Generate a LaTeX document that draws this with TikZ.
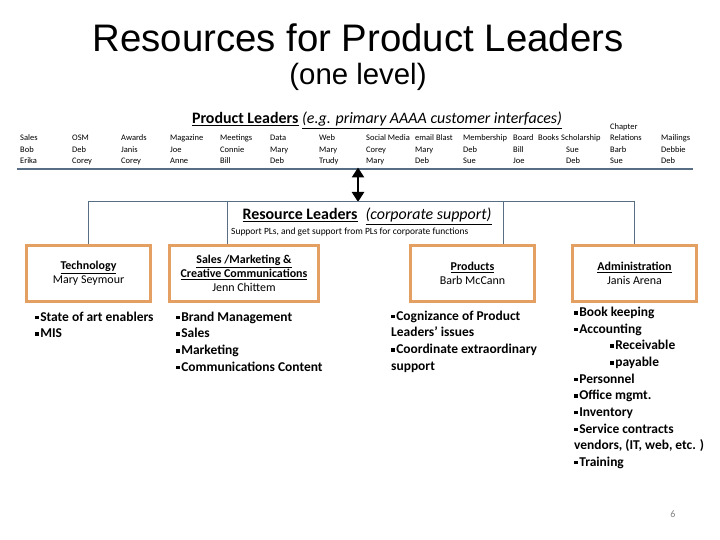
\documentclass[tikz,border=0pt]{standalone}
\usepackage{fontspec}
\setmainfont{Carlito}
\newfontfamily\titlefont{Liberation Sans}
\usetikzlibrary{arrows.meta}
\definecolor{boxorange}{RGB}{228,160,98}
\definecolor{slate}{RGB}{88,110,132}
\newcommand{\sqbul}{\rule[0.3ex]{0.26em}{0.26em}\kern0.12em}

\begin{document}
\begin{tikzpicture}[x=1bp, y=-1bp,
    col/.style={anchor=base west, align=left, inner sep=0pt, font=\fontsize{8.5}{11.5}\selectfont},
    res/.style={draw=boxorange, line width=3bp, minimum height=56bp, align=center, inner sep=2bp, font=\fontsize{12}{14}\selectfont},
    duty/.style={anchor=base west, align=left, inner sep=0pt, font=\bfseries\fontsize{13.5}{16.7}\selectfont},
    link/.style={slate, line width=0.8bp}]
    \useasboundingbox (0,0) rectangle (720,540);
    % titles
    \node[anchor=base, font=\titlefont\fontsize{38.5}{40}\selectfont] (title) at (358,52) {Resources for Product Leaders};
    \node[anchor=base, font=\titlefont\fontsize{29.5}{32}\selectfont] (subtitle) at (358,85) {(one level)};
    \node[anchor=base, font=\fontsize{16}{18}\selectfont] (plhead) at (377,124)
        {\underline{\textbf{Product Leaders}} \underline{\textit{(e.g. primary AAAA customer interfaces)}}};
    % product leader columns (anchored on their last line)
    \foreach \x/\hd/\na/\nb in {20/Sales/Bob/Erika, 72/OSM/Deb/Corey, 121/Awards/Janis/Corey,
        170/Magazine/Joe/Anne, 220/Meetings/Connie/Bill, 270/Data/Mary/Deb, 319/Web/Mary/Trudy,
        366/Social Media/Corey/Mary, 415/email Blast/Mary/Deb, 463/Membership/Deb/Sue,
        513/Board/Bill/Joe, 661/Mailings/Debbie/Deb}
        {\node[col] (c\x) at (\x,163.5) {\hd\\\na\\\nb};}
    \node[col] (books) at (538,140.5) {Books};
    \node[col] (schol) at (561,140.5) {Scholarship};
    \node[col] (scholpl) at (566,163.5) {Sue\\Deb};
    \node[col] (chapter) at (610,163.5) {Chapter\\Relations\\Barb\\Sue};
    \draw[slate, line width=1.2bp] (17,169) -- (693,169);
    % link between the two levels
    \coordinate (pl) at (358,167.5);
    \coordinate (rl) at (358,202);
    \draw[{Triangle[width=12bp,length=10bp]}-{Triangle[width=12bp,length=10bp]}, line width=2.6bp] (pl) -- (rl);
    % resource leaders
    \node[anchor=base, font=\fontsize{16}{18}\selectfont] (rlhead) at (367,220)
        {\underline{\textbf{Resource Leaders}}\enspace\underline{\textit{(corporate support)}}};
    \node[anchor=base west, inner sep=0pt, font=\fontsize{9.5}{11}\selectfont] (rlnote) at (231,235)
        {Support PLs, and get support from PLs for corporate functions};
    \node[res, minimum width=124bp] (tech) at (88.5,273.5) {\underline{\textbf{Technology}}\\Mary Seymour};
    \node[res, minimum width=149bp] (sales) at (244,273.5) {\underline{\textbf{Sales /Marketing \&}}\\\underline{\textbf{Creative Communications}}\\Jenn Chittem};
    \node[res, minimum width=124bp] (prod) at (472.5,273.5) {\underline{\textbf{Products}}\\Barb McCann};
    \node[res, minimum width=124bp] (admin) at (634.5,273.5) {\underline{\textbf{Administration}}\\Janis Arena};
    \coordinate (bar) at (0,201);
    \coordinate (salesdrop) at (227,201);
    \coordinate (proddrop) at (503,201);
    \draw[link] (tech.north) -- (tech.north |- bar) -- (admin.north |- bar) -- (admin.north);
    \draw[link] (salesdrop) -- (salesdrop |- sales.north);
    \draw[link] (proddrop) -- (proddrop |- prod.north);
    % duties (anchored on their last line)
    \node[duty] (techlist) at (35,337.7) {\sqbul State of art enablers\\\sqbul MIS};
    \node[duty] (saleslist) at (176,371.1) {\sqbul Brand Management\\\sqbul Sales\\\sqbul Marketing\\\sqbul Communications Content};
    \node[duty] (prodlist) at (391,370.1) {\sqbul Cognizance of Product\\Leaders’ issues\\\sqbul Coordinate extraordinary\\support};
    \node[duty] (adminlist) at (574,466.3) {\sqbul Book keeping\\\sqbul Accounting\\\hspace*{36bp}\sqbul Receivable\\\hspace*{36bp}\sqbul payable\\\sqbul Personnel\\\sqbul Office mgmt.\\\sqbul Inventory\\\sqbul Service contracts\\vendors, (IT, web, etc. )\\\sqbul Training};
    \node[text=gray, font=\fontsize{10}{12}\selectfont] (pagenum) at (673,514) {6};
\end{tikzpicture}
\end{document}
